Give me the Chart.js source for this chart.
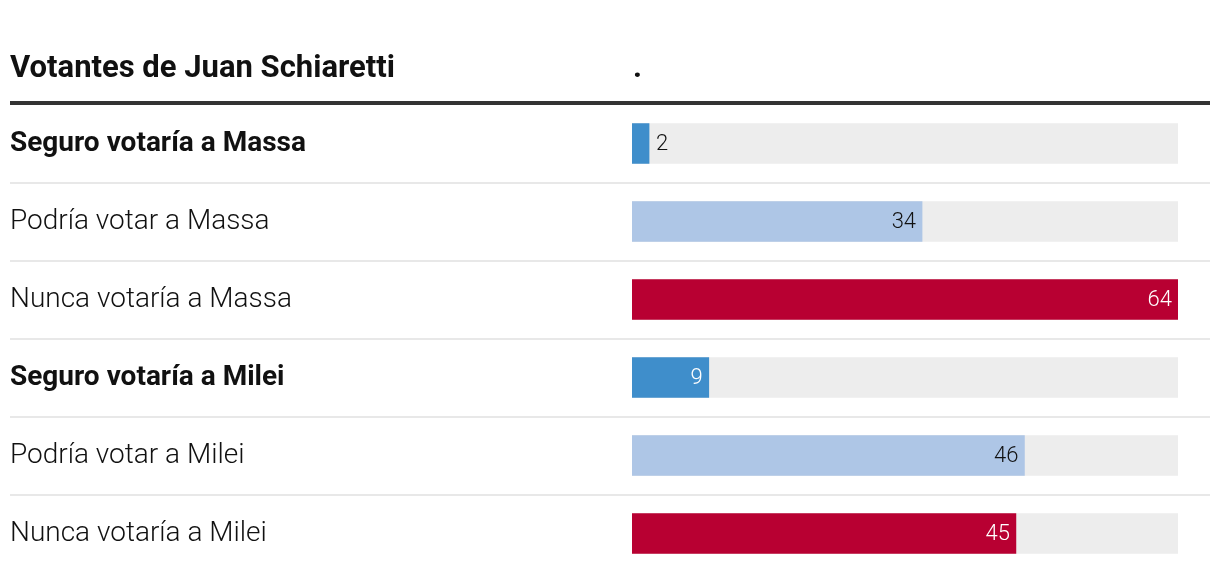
<!DOCTYPE html>
<html lang="es">
<head>
  <meta charset="UTF-8">
  <title>Votantes de Juan Schiaretti</title>
  <script src="https://cdn.jsdelivr.net/npm/chart.js"></script>
  <style>
    body {
      margin: 0;
      background: #fff;
    }
    #wrap {
      width: 1220px;
      height: 582px;
    }
  </style>
</head>
<body>
  <div id="wrap">
    <canvas id="chart" width="1220" height="582"></canvas>
  </div>

  <script>
    const title = 'Votantes de Juan Schiaretti';
    const columnHeader = '.';
    const categories = [
      'Seguro votaría a Massa',
      'Podría votar a Massa',
      'Nunca votaría a Massa',
      'Seguro votaría a Milei',
      'Podría votar a Milei',
      'Nunca votaría a Milei'
    ];
    const values = [2, 34, 64, 9, 46, 45];
    const scaleMax = 64;
    const track = categories.map(() => scaleMax);

    // colour per kind of answer: seguro / podría / nunca
    const barColors = ['#3f8ecb', '#aec6e6', '#b80032'];
    const labelColors = ['#fff', '#111', '#fff'];
    const fontFamily = 'Roboto, "Liberation Sans", sans-serif';

    const decorations = {
      id: 'decorations',
      beforeDatasetsDraw(chart) {
        const ctx = chart.ctx;
        const y = chart.scales.y;
        const step = y.getPixelForValue(1) - y.getPixelForValue(0);
        ctx.save();
        ctx.strokeStyle = '#e8e8e8';
        ctx.lineWidth = 2;
        for (let i = 0; i < categories.length - 1; i++) {
          const py = Math.round(y.getPixelForValue(i) + step / 2);
          ctx.beginPath();
          ctx.moveTo(10, py);
          ctx.lineTo(1210, py);
          ctx.stroke();
        }
        ctx.restore();
      },
      afterDraw(chart) {
        const ctx = chart.ctx;
        const area = chart.chartArea;
        ctx.save();
        // header
        ctx.fillStyle = '#111';
        ctx.font = 'bold 31px ' + fontFamily;
        ctx.textBaseline = 'alphabetic';
        ctx.textAlign = 'left';
        ctx.fillText(title, 10, 77);
        ctx.fillText(columnHeader, area.left + 1, 77);
        ctx.fillStyle = '#333';
        ctx.fillRect(10, 101, 1200, 4);

        // value labels
        const meta = chart.getDatasetMeta(0);
        ctx.font = '300 22px ' + fontFamily;
        ctx.textBaseline = 'middle';
        meta.data.forEach((bar, i) => {
          const txt = String(values[i]);
          const w = ctx.measureText(txt).width;
          const barW = bar.x - bar.base;
          if (barW > w + 12) {
            ctx.textAlign = 'right';
            ctx.fillStyle = labelColors[i % 3];
            ctx.fillText(txt, bar.x - 6, bar.y + 1);
          } else {
            ctx.textAlign = 'left';
            ctx.fillStyle = '#111';
            ctx.fillText(txt, bar.x + 7, bar.y + 1);
          }
        });
        ctx.restore();
      }
    };

    new Chart(document.getElementById('chart'), {
      type: 'bar',
      data: {
        labels: categories,
        datasets: [
          {
            data: values,
            backgroundColor: values.map((v, i) => barColors[i % 3]),
            barThickness: 40,
            grouped: false,
            order: 1
          },
          {
            data: track,
            backgroundColor: '#ededed',
            barThickness: 40,
            grouped: false,
            order: 2
          }
        ]
      },
      options: {
        indexAxis: 'y',
        responsive: false,
        animation: false,
        layout: {
          padding: { left: 10, right: 42, top: 104.5, bottom: 9.5 }
        },
        plugins: {
          legend: { display: false },
          tooltip: { enabled: false }
        },
        scales: {
          x: {
            display: false,
            min: 0,
            max: scaleMax
          },
          y: {
            grid: { display: false },
            border: { display: false },
            afterFit(scale) {
              scale.width = 622;
              scale.paddingTop = 0;
              scale.paddingBottom = 0;
            },
            ticks: {
              crossAlign: 'far',
              color: '#111',
              font: (c) => ({
                family: fontFamily,
                size: 28,
                weight: c.index % 3 === 0 ? 'bold' : '300'
              })
            }
          }
        }
      },
      plugins: [decorations]
    });
  </script>
</body>
</html>
